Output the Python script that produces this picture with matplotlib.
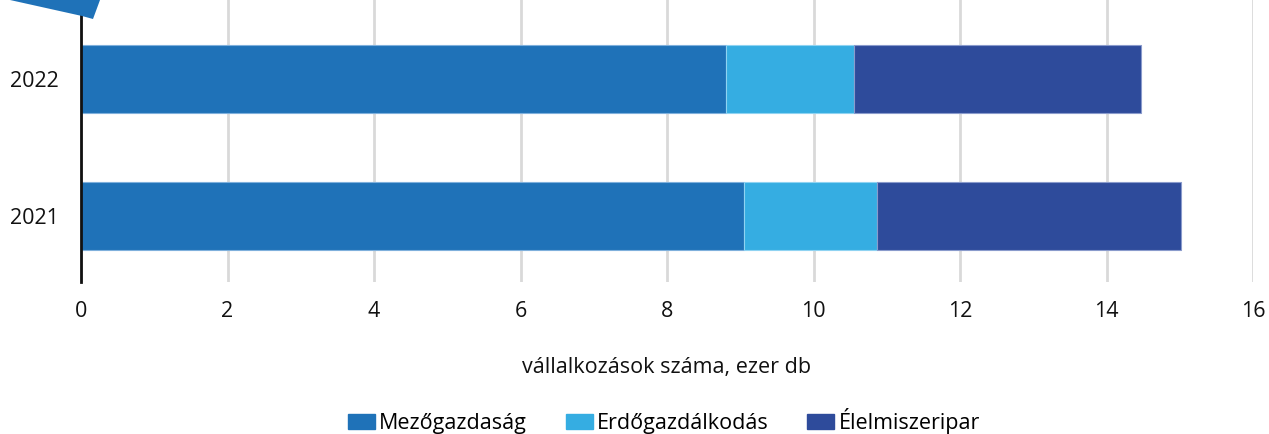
import matplotlib.pyplot as plt
from matplotlib.patches import Polygon, Patch

years = ["2021", "2022"]
mezogazdasag = [9.05, 8.81]
erdogazdalkodas = [1.82, 1.74]
elelmiszeripar = [4.15, 3.92]

series_names = ["Mezőgazdaság", "Erdőgazdálkodás", "Élelmiszeripar"]
colors = ["#1f72b8", "#35ade2", "#2e4b9b"]
edges = ["#7fb0dc", "#8fd3f2", "#8a9bcc"]

plt.rcParams['font.family'] = ['Open Sans', 'DejaVu Sans']

fig = plt.figure(figsize=(12.69, 4.34), dpi=100)
ax = fig.add_axes([81 / 1269, 1 - 282 / 434, (1253 - 81) / 1269, 282 / 434])

ypos = list(range(len(years)))
left = [0] * len(years)
for vals, c, e in zip([mezogazdasag, erdogazdalkodas, elelmiszeripar], colors, edges):
    ax.barh(ypos, vals, left=left, height=0.5, color=c, edgecolor=e, linewidth=0.8, zorder=3)
    left = [l + v for l, v in zip(left, vals)]

ax.set_xlim(0, 16)
ax.set_ylim(-0.48, 1.577)
ax.set_xticks(range(0, 17, 2))
ax.set_yticks(ypos)
ax.set_yticklabels(years)
ax.tick_params(axis='both', length=0, labelsize=15.5, colors='#111111')
ax.tick_params(axis='x', pad=14)
ax.tick_params(axis='y', pad=16)
ax.grid(axis='x', color='#d9d9d9', linewidth=2, zorder=0)
for s in ['top', 'right', 'bottom']:
    ax.spines[s].set_visible(False)
ax.spines['left'].set_linewidth(2)
ax.spines['left'].set_color('#111111')
ax.spines['left'].set_zorder(4)

fig.text(667 / 1269, 1 - 368 / 434, "vállalkozások száma, ezer db", ha='center', va='center',
         fontsize=15.5, color='#111111')

handles = [Patch(facecolor=c, edgecolor=c) for c in colors]
fig.legend(handles, series_names, loc='center', bbox_to_anchor=(664 / 1269, 1 - 421 / 434),
           ncol=3, frameon=False, fontsize=15.5, handlelength=1.25, handleheight=0.7,
           handletextpad=0.2, columnspacing=1.8, borderpad=0)

# decorative corner shape
corner = Polygon([(10 / 1269, 1.0), (82 / 1269, 1 - 16 / 434), (93 / 1269, 1 - 19 / 434),
                  (100 / 1269, 1.0)], closed=True, transform=fig.transFigure,
                 facecolor='#1f72b8', edgecolor='none', zorder=10)
fig.patches.append(corner)

fig.savefig("out.png", dpi=100)
